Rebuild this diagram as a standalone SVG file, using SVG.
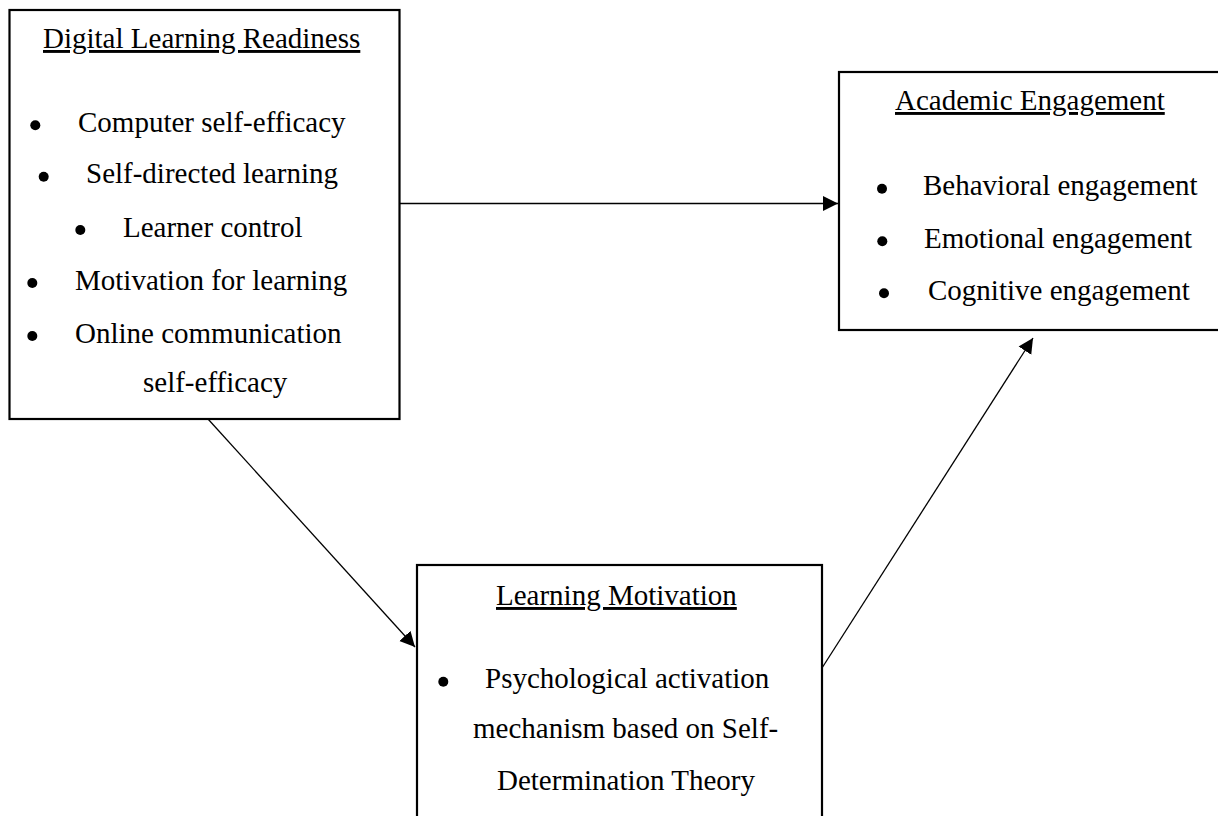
<svg xmlns="http://www.w3.org/2000/svg" width="1218" height="816" viewBox="0 0 1218 816">
  <defs>
    <style>
      .box { fill: #ffffff; stroke: #000000; stroke-width: 2.2; }
      .t { font-family: "Liberation Serif", "Times New Roman", serif; font-size: 29px; fill: #000000; }
      .title { text-decoration: underline; }
      .dot { fill: #000000; }
      .conn { stroke: #000000; stroke-width: 1.3; fill: none; marker-end: url(#arrow); }
    </style>
    <marker id="arrow" markerUnits="userSpaceOnUse" markerWidth="16" markerHeight="16" refX="15" refY="8" orient="auto">
      <path d="M0,0.5 L15,8 L0,15.5 Z" fill="#000000"/>
    </marker>
  </defs>
  <rect width="1218" height="816" fill="#ffffff"/>

  <g id="connectors">
    <line class="conn" x1="400" y1="203.5" x2="838" y2="203.5"/>
    <line class="conn" x1="208" y1="419" x2="415" y2="647"/>
    <line class="conn" x1="822" y1="668" x2="1033" y2="338"/>
  </g>

  <g id="digital-learning-readiness">
    <rect class="box" x="9.5" y="10" width="390" height="409"/>
    <text class="t title" x="43" y="48">Digital Learning Readiness</text>
    <circle class="dot" cx="35.3" cy="125.3" r="5"/>
    <text class="t" x="78" y="132">Computer self-efficacy</text>
    <circle class="dot" cx="43.7" cy="176.7" r="5"/>
    <text class="t" x="86" y="183">Self-directed learning</text>
    <circle class="dot" cx="80.3" cy="230" r="5"/>
    <text class="t" x="123" y="237">Learner control</text>
    <circle class="dot" cx="32.3" cy="283" r="5"/>
    <text class="t" x="75" y="290">Motivation for learning</text>
    <circle class="dot" cx="32.3" cy="336" r="5"/>
    <text class="t" x="75" y="343">Online communication</text>
    <text class="t" x="143" y="392">self-efficacy</text>
  </g>

  <g id="academic-engagement">
    <rect class="box" x="839" y="72" width="385" height="258"/>
    <text class="t title" x="895" y="110">Academic Engagement</text>
    <circle class="dot" cx="882" cy="188.7" r="5"/>
    <text class="t" x="923" y="195">Behavioral engagement</text>
    <circle class="dot" cx="882.3" cy="241.3" r="5"/>
    <text class="t" x="924" y="248">Emotional engagement</text>
    <circle class="dot" cx="884" cy="293.3" r="5"/>
    <text class="t" x="928" y="300">Cognitive engagement</text>
  </g>

  <g id="learning-motivation">
    <rect class="box" x="417" y="565" width="405" height="270"/>
    <text class="t title" x="496" y="605">Learning Motivation</text>
    <circle class="dot" cx="443.3" cy="681.7" r="5"/>
    <text class="t" x="485" y="688">Psychological activation</text>
    <text class="t" x="473" y="738">mechanism based on Self-</text>
    <text class="t" x="497" y="790">Determination Theory</text>
  </g>
</svg>
